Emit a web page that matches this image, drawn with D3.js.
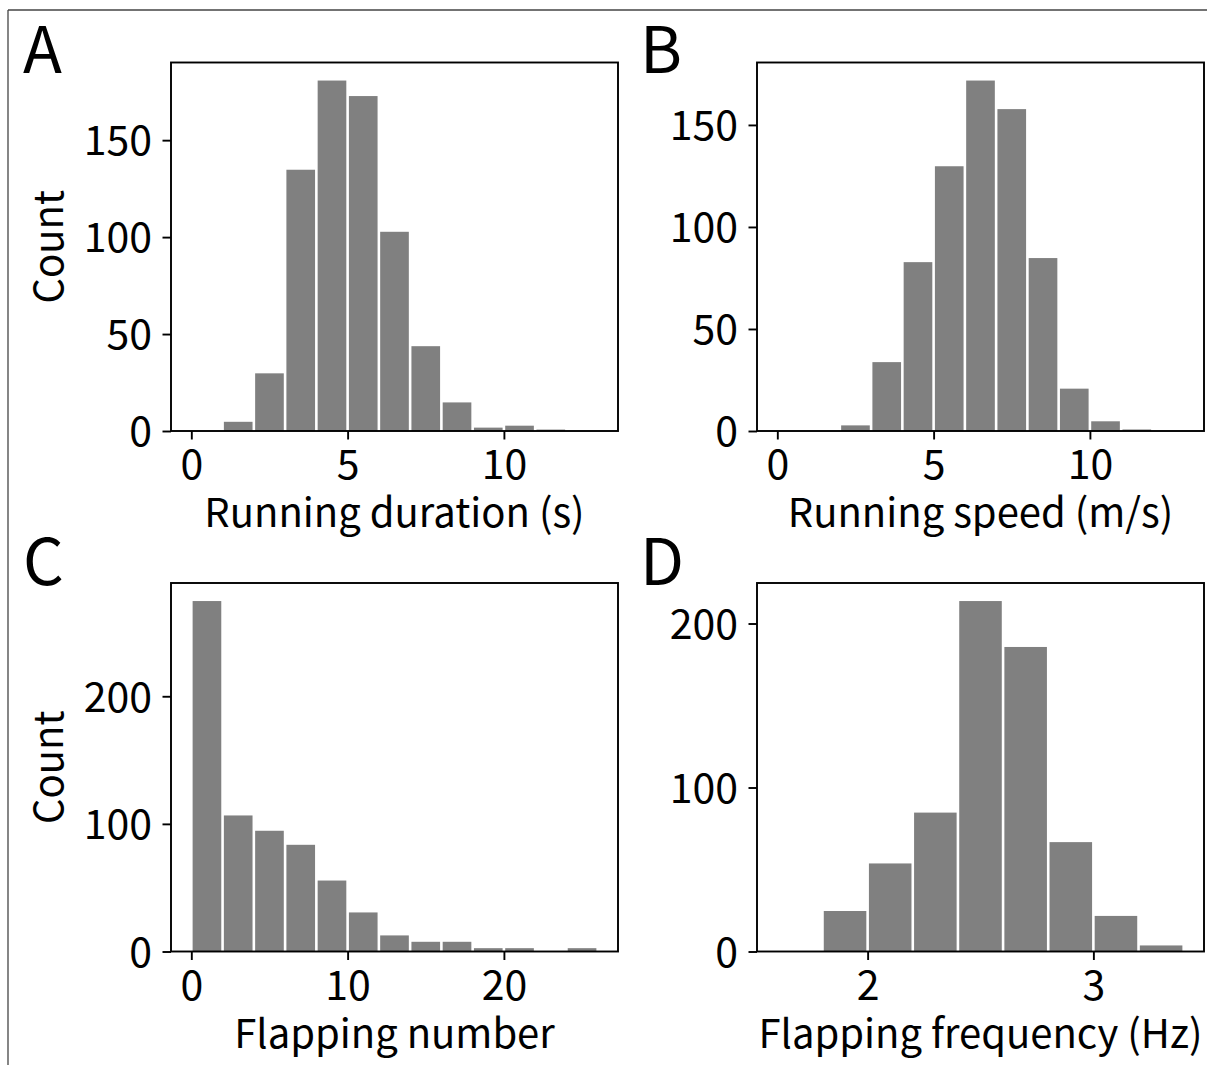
<!DOCTYPE html>
<html>
<head>
<meta charset="utf-8">
<script src="https://cdn.jsdelivr.net/npm/d3@7"></script>
<style>
  body { margin: 0; background: #fff; }
  svg { display: block; }
  text { font-family: "Noto Sans CJK JP", "Noto Sans", sans-serif; fill: #000; }
</style>
</head>
<body>
<script>
'use strict';

var width = 1207,
    height = 1065;

// histogram bin edges and counts
var durationEdges = [0, 1, 2, 3, 4, 5, 6, 7, 8, 9, 10, 11, 12, 13];
var durationCounts = [0, 5, 30, 135, 181, 173, 103, 44, 15, 2, 3, 1, 0];
var durationTicksX = [0, 5, 10];
var durationTicksY = [0, 50, 100, 150];

var speedEdges = [0, 1, 2, 3, 4, 5, 6, 7, 8, 9, 10, 11, 12, 13];
var speedCounts = [0, 0, 3, 34, 83, 130, 172, 158, 85, 21, 5, 1, 0];
var speedTicksX = [0, 5, 10];
var speedTicksY = [0, 50, 100, 150];

var flapNumEdges = [0, 2, 4, 6, 8, 10, 12, 14, 16, 18, 20, 22, 24, 26];
var flapNumCounts = [275, 107, 95, 84, 56, 31, 13, 8, 8, 3, 3, 0, 3];
var flapNumTicksX = [0, 10, 20];
var flapNumTicksY = [0, 100, 200];

var flapFreqEdges = [1.6, 1.8, 2.0, 2.2, 2.4, 2.6, 2.8, 3.0, 3.2, 3.4];
var flapFreqCounts = [0, 25, 54, 85, 214, 186, 67, 22, 4];
var flapFreqTicksX = [2, 3];
var flapFreqTicksY = [0, 100, 200];

var panels = [
  {letter: "A", edges: durationEdges, counts: durationCounts, tx: durationTicksX, ty: durationTicksY,
   xlabel: "Running duration (s)", ylabel: "Count", left: 171, top: 62.5},
  {letter: "B", edges: speedEdges, counts: speedCounts, tx: speedTicksX, ty: speedTicksY,
   xlabel: "Running speed (m/s)", ylabel: null, left: 757, top: 62.5},
  {letter: "C", edges: flapNumEdges, counts: flapNumCounts, tx: flapNumTicksX, ty: flapNumTicksY,
   xlabel: "Flapping number", ylabel: "Count", left: 171, top: 583},
  {letter: "D", edges: flapFreqEdges, counts: flapFreqCounts, tx: flapFreqTicksX, ty: flapFreqTicksY,
   xlabel: "Flapping frequency (Hz)", ylabel: null, left: 757, top: 583}
];

var pw = 447,
    ph = 368.5,
    tickLen = 8.5,
    tickFont = 41,
    labelFont = 40,
    gap = 1.3;   // half of the white gap between bars

var svg = d3.select("body").append("svg")
  .attr("width", width)
  .attr("height", height);

// thin frame on top and left edge
svg.append("line")
  .attr("x1", 8).attr("x2", width).attr("y1", 10).attr("y2", 10)
  .attr("stroke", "#444").attr("stroke-width", 1.3);
svg.append("line")
  .attr("x1", 8).attr("x2", 8).attr("y1", 10).attr("y2", height)
  .attr("stroke", "#444").attr("stroke-width", 1.3);

panels.forEach(function(p) {
  var lo = p.edges[0],
      hi = p.edges[p.edges.length - 1],
      pad = (hi - lo) * 0.05;

  var x = d3.scaleLinear()
    .domain([lo - pad, hi + pad])
    .range([0, pw]);

  var y = d3.scaleLinear()
    .domain([0, d3.max(p.counts) * 1.05])
    .range([ph, 0]);

  var bins = p.counts.map(function(c, i) {
    return {x0: p.edges[i], x1: p.edges[i + 1], n: c};
  });

  var g = svg.append("g")
    .attr("transform", "translate(" + p.left + "," + p.top + ")");

  // bars
  g.selectAll("rect.bar")
    .data(bins.filter(function(d) { return d.n > 0; }))
    .enter().append("rect")
    .attr("class", "bar")
    .attr("x", function(d) { return x(d.x0) + gap; })
    .attr("width", function(d) { return x(d.x1) - x(d.x0) - 2 * gap; })
    .attr("y", function(d) { return y(d.n) + 0.5; })
    .attr("height", function(d) { return Math.max(1.5, y(0) - y(d.n) - 0.5); })
    .attr("fill", "#808080");

  // axes
  var xAxis = g.append("g")
    .attr("transform", "translate(0," + ph + ")")
    .call(d3.axisBottom(x).tickValues(p.tx).tickFormat(d3.format("d")).tickSize(tickLen));
  xAxis.select(".domain").remove();
  xAxis.selectAll("line").attr("stroke", "#000").attr("stroke-width", 1.9);
  xAxis.selectAll("text")
    .attr("y", 48).attr("dy", 0)
    .style("font-size", tickFont + "px")
    .style("font-family", '"Noto Sans CJK JP", sans-serif')
    .attr("fill", "#000");

  var yAxis = g.append("g")
    .call(d3.axisLeft(y).tickValues(p.ty).tickSize(tickLen));
  yAxis.select(".domain").remove();
  yAxis.selectAll("line").attr("stroke", "#000").attr("stroke-width", 1.9);
  yAxis.selectAll("text")
    .attr("x", -19).attr("dy", "0.36em")
    .style("font-size", tickFont + "px")
    .style("font-family", '"Noto Sans CJK JP", sans-serif')
    .attr("fill", "#000");

  // frame
  g.append("rect")
    .attr("width", pw)
    .attr("height", ph)
    .attr("fill", "none")
    .attr("stroke", "#000")
    .attr("stroke-width", 1.9);

  // labels
  g.append("text")
    .attr("x", pw / 2)
    .attr("y", ph + 96)
    .attr("text-anchor", "middle")
    .style("font-size", labelFont + "px")
    .text(p.xlabel);

  if (p.ylabel) {
    g.append("text")
      .attr("transform", "translate(" + (63 - p.left) + "," + (ph / 2) + ") rotate(-90)")
      .attr("text-anchor", "middle")
      .style("font-size", labelFont + "px")
      .text(p.ylabel);
  }

  g.append("text")
    .attr("x", p.letter === "A" || p.letter === "C" ? 23 - p.left : 640 - p.left)
    .attr("y", p.top < 100 ? 10 : 2)
    .style("font-size", "64px")
    .text(p.letter);
});
</script>
</body>
</html>
